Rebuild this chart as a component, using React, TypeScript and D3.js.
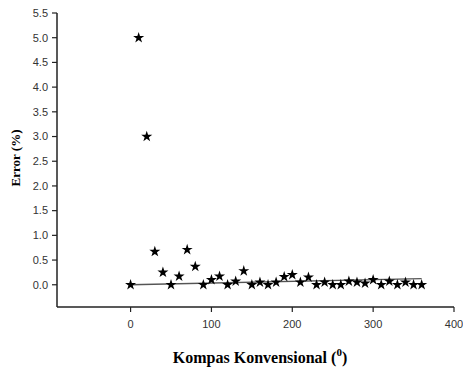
import React from "react";
import * as d3 from "d3";

const angles = [0, 10, 20, 30, 40, 50, 60, 70, 80, 90, 100, 110, 120, 130, 140, 150, 160, 170, 180, 190, 200, 210, 220, 230, 240, 250, 260, 270, 280, 290, 300, 310, 320, 330, 340, 350, 360];
const errors = [0, 5.0, 3.0, 0.67, 0.25, 0.0, 0.17, 0.71, 0.37, 0.0, 0.1, 0.17, 0.0, 0.07, 0.28, 0.0, 0.05, 0.0, 0.05, 0.16, 0.2, 0.05, 0.15, 0.0, 0.05, 0.0, 0.0, 0.07, 0.05, 0.03, 0.1, 0.0, 0.07, 0.0, 0.05, 0.0, 0.0];
const trendX = [0, 360];
const trendY = [0.0, 0.125];
const xTicks = [0, 100, 200, 300, 400];
const yTicks = [0, 0.5, 1, 1.5, 2, 2.5, 3, 3.5, 4, 4.5, 5, 5.5];

export default function App() {
  const W = 463, H = 369;
  const left = 57, right = 454, top = 13, bottom = 307;
  const x = d3.scaleLinear().domain([-91, 400]).range([left, right]);
  const y = d3.scaleLinear().domain([-0.45, 5.5]).range([bottom, top]);
  const star = d3.symbol().type(d3.symbolStar).size(38)();
  const line = d3.line<number>().x((_, i) => x(trendX[i])).y((d) => y(d));
  const tickFont = "'Liberation Sans', Arial, sans-serif";
  const titleFont = "'Liberation Serif', 'Times New Roman', serif";
  return (
    <svg width={W} height={H} style={{ position: "absolute", left: 0, top: 0, background: "#fff" }}>
      <path d={line(trendY) || ""} stroke="#555" strokeWidth={1.3} fill="none" />
      {angles.map((a, i) => (
        <path key={i} d={star} transform={`translate(${x(a)},${y(errors[i])})`} fill="#000" />
      ))}
      <line x1={left} x2={left} y1={y(5.5)} y2={bottom} stroke="#222" strokeWidth={1.5} />
      <line x1={left} x2={right} y1={bottom} y2={bottom} stroke="#222" strokeWidth={1.5} />
      {yTicks.map((t) => (
        <g key={t}>
          <line x1={left - 5} x2={left} y1={y(t)} y2={y(t)} stroke="#222" strokeWidth={1.2} />
          <text x={left - 9} y={y(t)} dy="0.35em" textAnchor="end" fontFamily={tickFont} fontSize={11} fill="#333">
            {t.toFixed(1)}
          </text>
        </g>
      ))}
      {xTicks.map((t) => (
        <g key={t}>
          <line x1={x(t)} x2={x(t)} y1={bottom} y2={bottom + 5} stroke="#222" strokeWidth={1.2} />
          <text x={x(t)} y={324} dy="0.35em" textAnchor="middle" fontFamily={tickFont} fontSize={11} fill="#333">
            {t}
          </text>
        </g>
      ))}
      <text transform={`translate(20,${158}) rotate(-90)`} textAnchor="middle" fontFamily={titleFont} fontWeight="bold" fontSize={13} fill="#000">
        Error (%)
      </text>
      <text x={260} y={363} textAnchor="middle" fontFamily={titleFont} fontWeight="bold" fontSize={16} fill="#000">
        Kompas Konvensional (<tspan fontSize={11} dy={-7}>0</tspan><tspan dy={7}>)</tspan>
      </text>
    </svg>
  );
}
